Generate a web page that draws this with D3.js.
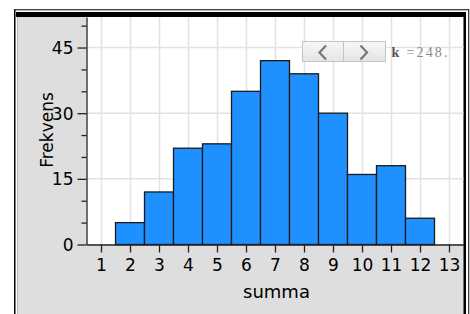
<!DOCTYPE html>
<html><head><meta charset="utf-8">
<script src="https://cdn.jsdelivr.net/npm/d3@7"></script>
<style>html,body{margin:0;padding:0;background:#fff;overflow:hidden}</style>
</head><body><svg id="c" width="470" height="314"></svg>
<script>
const sums = [2,3,4,5,6,7,8,9,10,11,12];
const counts = [5,12,22,23,35,42,39,30,16,18,6];
const xTicks = [1,2,3,4,5,6,7,8,9,10,11,12,13];
const yMajor = [0,15,30,45];
const yMinor = [5,10,20,25,35,40,50];
const xTitle = "summa", yTitle = "Frekvens";
const kLabel = "k", kValue = "=248.";

const svg = d3.select("#c");
const L = 86.5, R = 463.5, T = 17, B = 244.5;
const x = d3.scaleLinear().domain([0.5,13.5]).range([L,R]);
const y = d3.scaleLinear().domain([0,52]).range([B,16.9]);

// panel
svg.append("rect").attr("x",17).attr("y",17).attr("width",447).attr("height",297).attr("fill","#dedede");
svg.append("rect").attr("x",L).attr("y",T).attr("width",R-L).attr("height",B-T).attr("fill","#fff");
// frame
svg.append("line").attr("x1",14.75).attr("x2",14.75).attr("y1",9.5).attr("y2",314).attr("stroke","#000").attr("stroke-width",1.5);
svg.append("line").attr("x1",14).attr("x2",469).attr("y1",9.75).attr("y2",9.75).attr("stroke","#000").attr("stroke-width",1);
svg.append("line").attr("x1",468.75).attr("x2",468.75).attr("y1",9.5).attr("y2",314).attr("stroke","#000").attr("stroke-width",1);
svg.append("rect").attr("x",16).attr("y",12).attr("width",450).attr("height",5).attr("fill","#000");
svg.append("rect").attr("x",463.5).attr("y",12).attr("width",2.5).attr("height",302).attr("fill","#000");
svg.append("line").attr("x1",17.5).attr("x2",17.5).attr("y1",17).attr("y2",314).attr("stroke","#bbb").attr("stroke-width",1);

// grid
const g = svg.append("g");
g.selectAll("line.vg").data(xTicks).join("line").attr("class","vg")
  .attr("x1",d=>Math.round(x(d))+0.5).attr("x2",d=>Math.round(x(d))+0.5).attr("y1",T).attr("y2",B)
  .attr("stroke","#e2e2e2").attr("stroke-width",1.5);
g.selectAll("line.hg").data(yMajor.filter(d=>d>0)).join("line").attr("class","hg")
  .attr("x1",L).attr("x2",R).attr("y1",d=>y(d)).attr("y2",d=>y(d))
  .attr("stroke","#e2e2e2").attr("stroke-width",1.5);

// bars
svg.selectAll("rect.bar").data(sums).join("rect").attr("class","bar")
  .attr("x",d=>x(d-0.5)).attr("width",d=>x(d+0.5)-x(d-0.5))
  .attr("y",(d,i)=>y(counts[i])).attr("height",(d,i)=>y(0)-y(counts[i]))
  .attr("fill","#1e90ff").attr("stroke","#1a1a1a").attr("stroke-width",1.3);

// axes
const xa = svg.append("g").attr("transform",`translate(0,${B})`)
  .call(d3.axisBottom(x).tickValues(xTicks).tickFormat(d3.format("d")).tickSize(8).tickPadding(6).tickSizeOuter(0));
const ya = svg.append("g").attr("transform",`translate(${L},0)`)
  .call(d3.axisLeft(y).tickValues(yMajor).tickSize(9).tickPadding(4).tickSizeOuter(0));
const yam = svg.append("g").attr("transform",`translate(${L},0)`)
  .call(d3.axisLeft(y).tickValues(yMinor).tickSize(5).tickFormat("").tickSizeOuter(0));
yam.select(".domain").remove();
[xa,ya,yam].forEach(a=>{
  a.selectAll("path.domain").attr("stroke","#222").attr("stroke-width",1.3);
  a.selectAll(".tick line").attr("stroke","#222").attr("stroke-width",1.3);
  a.selectAll("text").attr("fill","#000").attr("font-family","DejaVu Sans").attr("font-size",17);
});
ya.selectAll("text").attr("dy","0.36em");
xa.selectAll("text").attr("dy","0.76em");

svg.append("text").attr("x",276.5).attr("y",297.5).attr("text-anchor","middle")
  .attr("font-family","DejaVu Sans").attr("font-size",18).text(xTitle);
svg.append("text").attr("transform","translate(53,130) rotate(-90)").attr("text-anchor","middle")
  .attr("font-family","DejaVu Sans").attr("font-size",17).text(yTitle);

// slider widget
const defs = svg.append("defs");
const gr = defs.append("linearGradient").attr("id","bg").attr("x1",0).attr("x2",0).attr("y1",0).attr("y2",1);
gr.append("stop").attr("offset","0").attr("stop-color","#f7f7f7");
gr.append("stop").attr("offset","1").attr("stop-color","#e4e4e4");
svg.append("rect").attr("x",302.5).attr("y",41.5).attr("width",83).attr("height",20)
  .attr("fill","url(#bg)").attr("stroke","#c4c4c4");
svg.append("line").attr("x1",343.5).attr("x2",343.5).attr("y1",41.5).attr("y2",61.5).attr("stroke","#c4c4c4");
svg.append("path").attr("d","M326,45.5 L319.5,52.5 L326,59.5").attr("fill","none").attr("stroke","#777").attr("stroke-width",2.2);
svg.append("path").attr("d","M360.5,45.5 L367,52.5 L360.5,59.5").attr("fill","none").attr("stroke","#777").attr("stroke-width",2.2);
svg.append("text").attr("x",391.5).attr("y",56.5).attr("font-family","Liberation Serif").attr("font-weight","bold")
  .attr("font-size",14).attr("fill","#555").text(kLabel);
svg.append("text").attr("x",406.5).attr("y",56.5).attr("font-family","Liberation Serif")
  .attr("font-size",14).attr("fill","#8a8a8a").attr("textLength",41).text(kValue);
</script></body></html>
